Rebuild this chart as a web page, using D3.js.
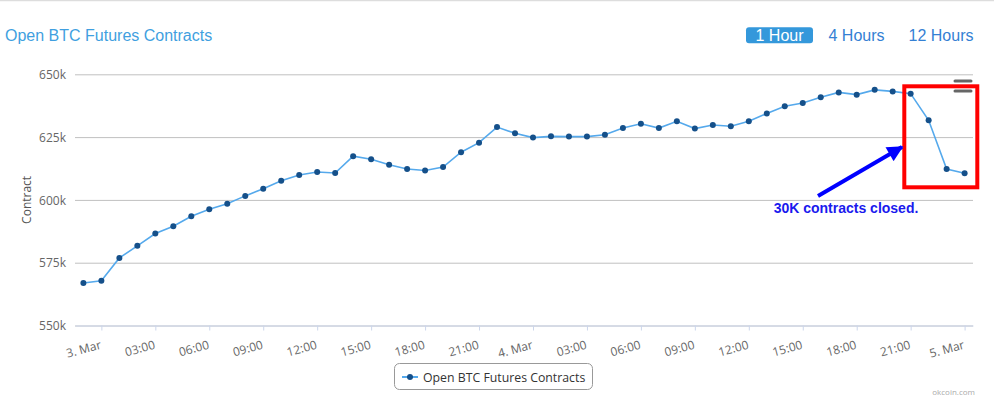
<!DOCTYPE html>
<html>
<head>
<meta charset="utf-8">
<script src="https://cdn.jsdelivr.net/npm/d3@7/dist/d3.min.js"></script>
<style>
  html, body { margin: 0; padding: 0; background: #fff; }
  svg { display: block; }
</style>
</head>
<body>
<div id="chart"></div>
<script>
// ---- data ----
const times = [
  "2018-03-02T23:00Z","2018-03-03T00:00Z","2018-03-03T01:00Z","2018-03-03T02:00Z","2018-03-03T03:00Z",
  "2018-03-03T04:00Z","2018-03-03T05:00Z","2018-03-03T06:00Z","2018-03-03T07:00Z","2018-03-03T08:00Z",
  "2018-03-03T09:00Z","2018-03-03T10:00Z","2018-03-03T11:00Z","2018-03-03T12:00Z","2018-03-03T13:00Z",
  "2018-03-03T14:00Z","2018-03-03T15:00Z","2018-03-03T16:00Z","2018-03-03T17:00Z","2018-03-03T18:00Z",
  "2018-03-03T19:00Z","2018-03-03T20:00Z","2018-03-03T21:00Z","2018-03-03T22:00Z","2018-03-03T23:00Z",
  "2018-03-04T00:00Z","2018-03-04T01:00Z","2018-03-04T02:00Z","2018-03-04T03:00Z","2018-03-04T04:00Z",
  "2018-03-04T05:00Z","2018-03-04T06:00Z","2018-03-04T07:00Z","2018-03-04T08:00Z","2018-03-04T09:00Z",
  "2018-03-04T10:00Z","2018-03-04T11:00Z","2018-03-04T12:00Z","2018-03-04T13:00Z","2018-03-04T14:00Z",
  "2018-03-04T15:00Z","2018-03-04T16:00Z","2018-03-04T17:00Z","2018-03-04T18:00Z","2018-03-04T19:00Z",
  "2018-03-04T20:00Z","2018-03-04T21:00Z","2018-03-04T22:00Z","2018-03-04T23:00Z","2018-03-05T00:00Z"
];
const contracts = [
  566900, 567800, 576900, 581700, 586600, 589500, 593500, 596300, 598500, 601600,
  604400, 607600, 609900, 611100, 610700, 617400, 616200, 614000, 612300, 611700,
  613100, 619000, 622800, 629000, 626500, 624800, 625300, 625200, 625200, 625900,
  628600, 630300, 628600, 631300, 628400, 629800, 629300, 631300, 634400, 637300,
  638600, 640900, 642800, 641900, 643800, 643200, 642300, 631700, 612300, 610600
];
const xTickTimes = [
  "2018-03-03T00:00Z","2018-03-03T03:00Z","2018-03-03T06:00Z","2018-03-03T09:00Z","2018-03-03T12:00Z",
  "2018-03-03T15:00Z","2018-03-03T18:00Z","2018-03-03T21:00Z","2018-03-04T00:00Z","2018-03-04T03:00Z",
  "2018-03-04T06:00Z","2018-03-04T09:00Z","2018-03-04T12:00Z","2018-03-04T15:00Z","2018-03-04T18:00Z",
  "2018-03-04T21:00Z","2018-03-05T00:00Z"
];
const xTickLabels = ["3. Mar","03:00","06:00","09:00","12:00","15:00","18:00","21:00",
                     "4. Mar","03:00","06:00","09:00","12:00","15:00","18:00","21:00","5. Mar"];
const yTickValues = [550000, 575000, 600000, 625000, 650000];
const yTickLabels = ["550k", "575k", "600k", "625k", "650k"];
const xDomain = ["2018-03-02T22:32Z", "2018-03-05T00:28Z"];
const yDomain = [550000, 650000];
const rangeButtons = ["1 Hour", "4 Hours", "12 Hours"];
const chartTitle = "Open BTC Futures Contracts";
const seriesName = "Open BTC Futures Contracts";
const yAxisTitle = "Contract";
const annotationText = "30K contracts closed.";
const creditText = "okcoin.com";

// ---- layout ----
const W = 994, H = 396;
const plot = { left: 75, right: 973, top: 74.3, bottom: 325.5 };
const FONT = "'Open Sans', 'DejaVu Sans', sans-serif";
const ARIAL = "'Liberation Sans', Arial, sans-serif";

const svg = d3.select("#chart").append("svg").attr("width", W).attr("height", H);

// top border line
svg.append("line").attr("x1", 0).attr("x2", W).attr("y1", 0.5).attr("y2", 0.5)
  .attr("stroke", "#dddddd").attr("stroke-width", 1.5);

// title
svg.append("text").attr("x", 5).attr("y", 41)
  .attr("font-family", ARIAL).attr("font-size", 16).attr("fill", "#3f9fe0")
  .text(chartTitle);

// range buttons
const btnX = [746, 828.5, 909];
const btnW = [67, 56, 64];
rangeButtons.forEach((b, i) => {
  if (i === 0) {
    svg.append("rect").attr("x", btnX[i]).attr("y", 27.3).attr("width", btnW[i]).attr("height", 16)
      .attr("rx", 3).attr("fill", "#3498db");
  }
  svg.append("text").attr("x", btnX[i] + btnW[i] / 2).attr("y", 41)
    .attr("text-anchor", "middle")
    .attr("font-family", ARIAL).attr("font-size", 16)
    .attr("fill", i === 0 ? "#ffffff" : "#3480d4")
    .text(b);
});

// scales
const parse = s => new Date(s);
const x = d3.scaleUtc().domain(xDomain.map(parse)).range([plot.left, plot.right]);
const y = d3.scaleLinear().domain(yDomain).range([plot.bottom, plot.top]);

// grid + y labels
const yAxis = d3.axisLeft(y).tickValues(yTickValues).tickSize(-(plot.right - plot.left))
  .tickFormat((d, i) => yTickLabels[i]).tickPadding(9);
const gy = svg.append("g").attr("transform", `translate(${plot.left},0)`).call(yAxis);
gy.select(".domain").remove();
gy.selectAll(".tick line").attr("stroke", "#c0c0c0");
gy.selectAll(".tick text").attr("fill", "#666666").attr("font-family", FONT).attr("font-size", 12)
  .attr("dy", "0.35em");

// y axis title
svg.append("text").attr("transform", `translate(31,${(plot.top + plot.bottom) / 2}) rotate(-90)`)
  .attr("text-anchor", "middle").attr("font-family", FONT).attr("font-size", 12).attr("fill", "#555555")
  .text(yAxisTitle);

// x axis
const xAxis = d3.axisBottom(x).tickValues(xTickTimes.map(parse))
  .tickFormat((d, i) => xTickLabels[i]).tickSize(5).tickSizeOuter(0);
const gx = svg.append("g").attr("transform", `translate(0,${plot.bottom})`).call(xAxis);
gx.select(".domain").attr("stroke", "#ccd6eb");
gx.selectAll(".tick line").attr("stroke", "#ccd6eb");
gx.selectAll(".tick text").attr("fill", "#666666").attr("font-family", FONT).attr("font-size", 12)
  .attr("text-anchor", "end").attr("dy", null).attr("y", 0)
  .attr("transform", "translate(0,23) rotate(-15)");

// line
const pts = times.map((t, i) => ({ t: parse(t), v: contracts[i] }));
svg.append("path").datum(pts)
  .attr("d", d3.line().x(d => x(d.t)).y(d => y(d.v)))
  .attr("fill", "none").attr("stroke", "#55a9ec").attr("stroke-width", 1.6);
svg.append("g").selectAll("circle").data(pts).join("circle")
  .attr("cx", d => x(d.t)).attr("cy", d => y(d.v)).attr("r", 3)
  .attr("fill", "#15508a");

// context menu icon
[81, 91].forEach(yy => {
  svg.append("line").attr("x1", 955).attr("x2", 971).attr("y1", yy).attr("y2", yy)
    .attr("stroke", "#666666").attr("stroke-width", 3).attr("stroke-linecap", "round");
});

// annotation: red rectangle
svg.append("rect").attr("x", 904.3).attr("y", 86.3).attr("width", 73).attr("height", 101)
  .attr("fill", "none").attr("stroke", "#ff0000").attr("stroke-width", 4);

// blue arrow
const defs = svg.append("defs");
defs.append("marker").attr("id", "arrowhead").attr("viewBox", "0 0 10 10")
  .attr("refX", 9).attr("refY", 5).attr("markerWidth", 4.5).attr("markerHeight", 4)
  .attr("markerUnits", "strokeWidth").attr("orient", "auto")
  .append("path").attr("d", "M0,0 L10,5 L0,10 z").attr("fill", "#0000ff");
svg.append("line").attr("x1", 818).attr("y1", 196).attr("x2", 902).attr("y2", 147)
  .attr("stroke", "#0000ff").attr("stroke-width", 4).attr("marker-end", "url(#arrowhead)");
svg.append("text").attr("x", 846).attr("y", 213).attr("text-anchor", "middle")
  .attr("font-family", ARIAL).attr("font-weight", "bold").attr("font-size", 14).attr("fill", "#1a1aee")
  .text(annotationText);

// legend
const lg = svg.append("g");
lg.append("rect").attr("x", 394.5).attr("y", 363.5).attr("width", 198).attr("height", 26)
  .attr("rx", 5).attr("fill", "#ffffff").attr("stroke", "#999999").attr("stroke-width", 1);
lg.append("line").attr("x1", 402).attr("x2", 418).attr("y1", 377).attr("y2", 377)
  .attr("stroke", "#55a9ec").attr("stroke-width", 2);
lg.append("circle").attr("cx", 410).attr("cy", 377).attr("r", 3).attr("fill", "#15508a");
lg.append("text").attr("x", 423).attr("y", 381.5).attr("font-family", FONT).attr("font-size", 12.3)
  .attr("fill", "#333333").text(seriesName);

// credits
svg.append("text").attr("x", 975).attr("y", 395).attr("text-anchor", "end")
  .attr("font-family", FONT).attr("font-size", 8).attr("fill", "#aaaaaa").text(creditText);
</script>
</body>
</html>
